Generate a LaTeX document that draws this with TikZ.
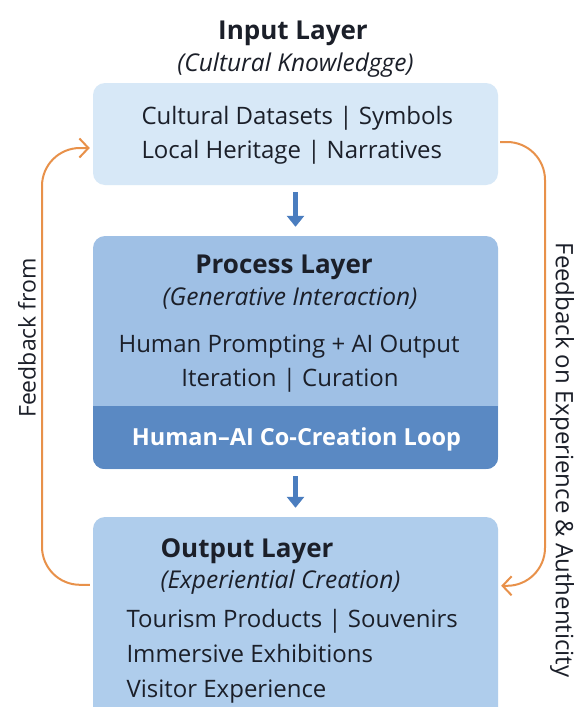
\documentclass[tikz,border=0pt]{standalone}
\usepackage{fontspec}
\setmainfont{Open Sans}
\usetikzlibrary{arrows.meta}

\definecolor{inputblue}{HTML}{D7E8F7}
\definecolor{procblue}{HTML}{9FC0E5}
\definecolor{loopblue}{HTML}{5A89C3}
\definecolor{outblue}{HTML}{AFCDEC}
\definecolor{fborange}{HTML}{E8914A}
\definecolor{flowblue}{HTML}{4A7DBF}
\definecolor{ink}{HTML}{1B1F29}

\begin{document}
\begin{tikzpicture}[x = 1pt, y = -1pt,
		layer/.style = {rounded corners = 12pt, minimum width = 405pt, inner sep = 0pt},
		heading/.style = {anchor = base, text = ink, font = \fontsize{26}{26}\selectfont\bfseries},
		subheading/.style = {anchor = base, text = ink, font = \fontsize{24.5}{24.5}\selectfont\itshape},
		body/.style = {anchor = base, text = ink, font = \fontsize{24}{24}\selectfont},
		flow/.style = {draw = flowblue, line width = 4.5pt, -{Triangle[width = 17pt, length = 11pt]}, shorten < = 7pt, shorten > = 9pt},
		feedback/.style = {draw = fborange, line width = 2pt, rounded corners = 38pt, -{Straight Barb[length = 9pt, width = 19pt]}},
		sidelabel/.style = {text = ink, font = \fontsize{23}{23}\selectfont}]
		
		\useasboundingbox (0,0) rectangle (574,707);
		\fill [white] (0,0) rectangle (574,707);
		\clip (0,0) rectangle (574,707);
		
		\def\xmid{295.5};
		\def\xL{42};
		\def\xR{545};
		
		% layer boxes
		\node (input) [layer, fill = inputblue, minimum height = 102pt] at (\xmid,134) {};
		\node (proc) [layer, fill = procblue, minimum height = 233pt] at (\xmid,352.5) {};
		\node (output) [layer, fill = outblue, minimum height = 230pt] at (\xmid,632) {};
		
		\begin{scope}
			\clip [rounded corners = 12pt] (proc.north west) rectangle (proc.south east);
			\node (loop) [fill = loopblue, minimum width = 405pt, minimum height = 63pt, inner sep = 0pt] at (\xmid,437.5) {};
		\end{scope}
		
		% input layer
		\node (input title) [heading] at (293,39) {Input Layer};
		\node (input sub) [subheading] at (\xmid,71) {(Cultural Knowledgge)};
		\node (input a) [body, anchor = base west] at (138,124) {Cultural Datasets | Symbols};
		\node (input b) [body, anchor = base west] at (138,158) {Local Heritage | Narratives};
		
		% process layer
		\node (proc title) [heading] at (284,273) {Process Layer};
		\node (proc sub) [subheading] at (290,305) {(Generative Interaction)};
		\node (proc a) [body] at (289,352) {Human Prompting + AI Output};
		\node (proc b) [body] at (290,386) {Iteration | Curation};
		\node (loop text) [heading, text = white, font = \fontsize{23.5}{23.5}\selectfont\bfseries] at (296.5,445) {Human–AI Co-Creation Loop};
		
		% output layer
		\node (output title) [heading, anchor = base west] at (157,557) {Output Layer};
		\node (output sub) [subheading, anchor = base west] at (157,588) {(Experiential Creation)};
		\node (output a) [body, anchor = base west] at (123,627) {Tourism Products | Souvenirs};
		\node (output b) [body, anchor = base west] at (123,662) {Immersive Exhibitions};
		\node (output c) [body, anchor = base west] at (123,697) {Visitor Experience};
		
		\draw [flow] (input) -- (proc);
		\draw [flow] (proc) -- (output);
		
		% feedback loops
		\coordinate (fb out west) at ([xshift = -3pt, yshift = -68pt]output.north west);
		\coordinate (fb in west) at ([xshift = -3pt, yshift = -14pt]input.west);
		\coordinate (fb in east) at ([xshift = 2pt, yshift = -8pt]input.east);
		\coordinate (fb out east) at ([xshift = 3pt, yshift = -69pt]output.north east);
		
		\draw [feedback] (fb out west) -| (\xL,360) |- (fb in west);
		\draw [feedback] (fb in east) -| (\xR,360) |- (fb out east);
		
		\node (fb left) [sidelabel, rotate = 90] at (27,338) {Feedback from};
		\node (fb right) [sidelabel, rotate = -90, font = \fontsize{24}{24}\selectfont] at (562,460) {Feedback on Experience \& Authenticity};
	\end{tikzpicture}
\end{document}
